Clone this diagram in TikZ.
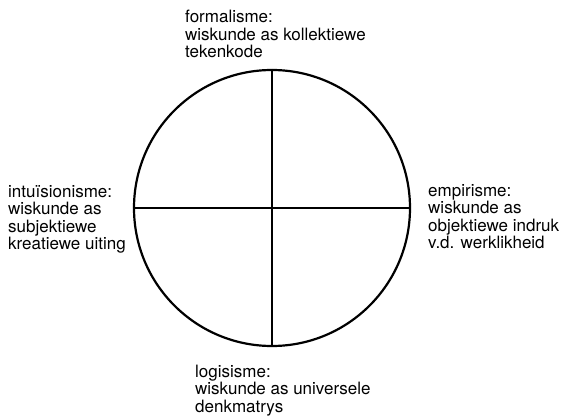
\documentclass[tikz,border=0pt]{standalone}
\usepackage{fontspec}
\setmainfont{TeX Gyre Heros}
\usetikzlibrary{positioning}

\begin{document}
\begin{tikzpicture}[
  x=1pt, y=1pt,
  quadrant/.style={draw=black, line width=2.2pt},
  viewpoint/.style={anchor=north west, align=left, inner sep=0pt,
    font=\fontsize{17pt}{17.5pt}\selectfont}
]
\useasboundingbox (0,0) rectangle (565,418);

% CIRCLE WITH CROSS
\node[quadrant, circle, minimum size=276pt, inner sep=0pt] (wheel) at (272,210) {};
\draw[quadrant] (wheel.north) -- (wheel.south);
\draw[quadrant] (wheel.west) -- (wheel.east);

% VIEWPOINTS
\node[viewpoint] (formal) at (185,408) {formalisme:\\wiskunde as kollektiewe\\tekenkode};
\node[viewpoint] (intuit) at (8,233) {intu\"isionisme:\\wiskunde as\\subjektiewe\\kreatiewe uiting};
\node[viewpoint] (empir) at (428,234) {empirisme:\\wiskunde as\\objektiewe indruk\\v.d. werklikheid};
\node[viewpoint] (logic) at (195,53.5) {logisisme:\\wiskunde as universele\\denkmatrys};

\end{tikzpicture}
\end{document}
